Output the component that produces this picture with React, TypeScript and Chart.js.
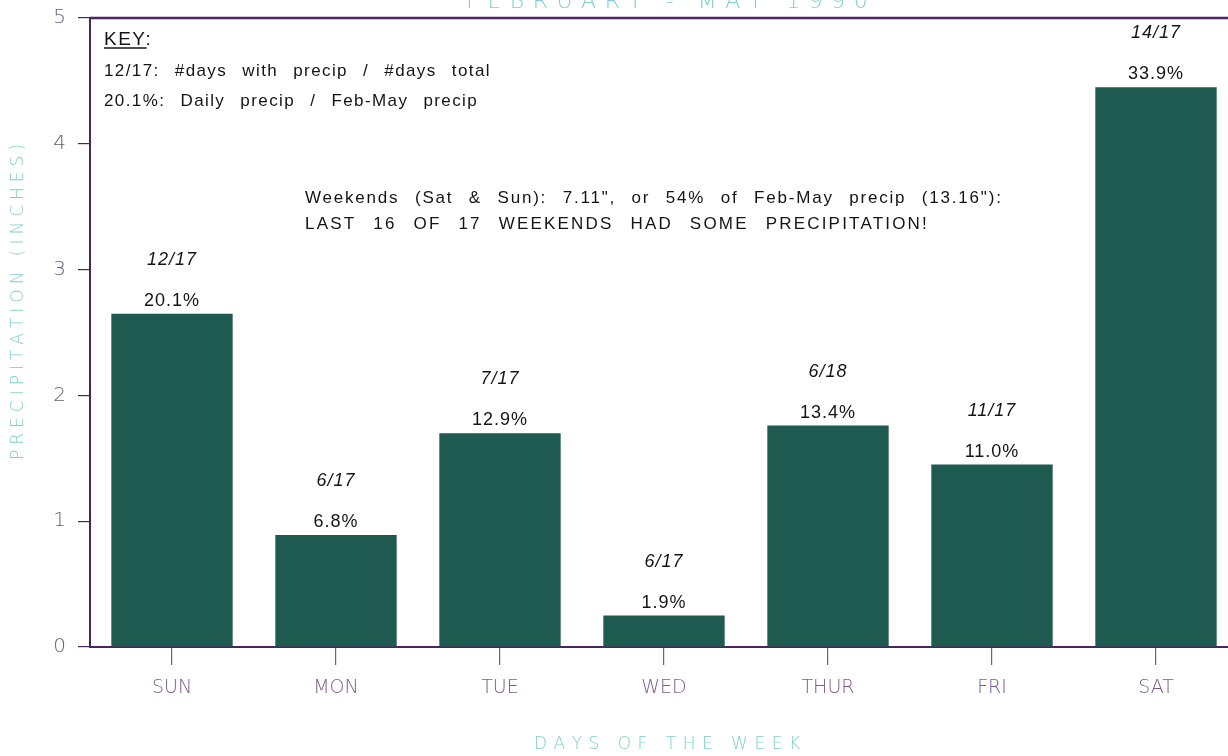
import React, { useEffect, useRef } from "react";
import { Chart, registerables } from "chart.js";

Chart.register(...registerables);

const days = ["SUN", "MON", "TUE", "WED", "THUR", "FRI", "SAT"];
const precipInches = [2.65, 0.89, 1.70, 0.25, 1.76, 1.45, 4.45];
const dayFractions = ["12/17", "6/17", "7/17", "6/17", "6/18", "11/17", "14/17"];
const dayPercents = ["20.1%", "6.8%", "12.9%", "1.9%", "13.4%", "11.0%", "33.9%"];
const yTicks = [0, 1, 2, 3, 4, 5];
const titleText = "FEBRUARY - MAY 1990";
const yTitle = "PRECIPITATION (INCHES)";
const xTitle = "DAYS OF THE WEEK";
const keyLines = ["12/17: #days with precip / #days total", "20.1%: Daily precip / Feb-May precip"];
const noteLines = [
  "Weekends (Sat & Sun): 7.11\", or 54% of Feb-May precip (13.16\"):",
  "LAST 16 OF 17 WEEKENDS HAD SOME PRECIPITATION!",
];

const AXIS = "#4a2660";
const TICK_TXT = "#7a5a8e";
const CYAN = "#7fd0cc";
const BAR = "#1f5a50";
const INK = "#141414";

function spacedText(ctx: CanvasRenderingContext2D, text: string, x: number, y: number, spacing: number, align: "center" | "left") {
  const widths = Array.from(text).map((c) => ctx.measureText(c).width);
  const total = widths.reduce((a, b) => a + b, 0) + spacing * (text.length - 1);
  let cx = align === "center" ? x - total / 2 : x;
  ctx.textAlign = "left";
  Array.from(text).forEach((c, i) => {
    ctx.fillText(c, cx, y);
    cx += widths[i] + spacing;
  });
}

const decorPlugin = {
  id: "decor",
  afterDraw(chart: any) {
    const ctx = chart.ctx as CanvasRenderingContext2D;
    const area = chart.chartArea;
    ctx.save();
    // top frame line
    ctx.strokeStyle = AXIS;
    ctx.lineWidth = 2.5;
    ctx.beginPath();
    ctx.moveTo(area.left, area.top);
    ctx.lineTo(chart.width, area.top);
    ctx.stroke();

    // title (partly cut off)
    ctx.fillStyle = CYAN;
    ctx.font = "200 22px 'DejaVu Sans'";
    ctx.textBaseline = "alphabetic";
    spacedText(ctx, titleText, 667, 8, 8.5, "center");

    // y title
    ctx.save();
    ctx.translate(19, 302);
    ctx.rotate(-Math.PI / 2);
    ctx.font = "200 17px 'DejaVu Sans'";
    ctx.textBaseline = "middle";
    spacedText(ctx, yTitle, 0, 0, 5, "center");
    ctx.restore();

    // x title
    ctx.font = "200 17px 'DejaVu Sans'";
    ctx.textBaseline = "middle";
    spacedText(ctx, xTitle, (area.left + area.right) / 2 + 3, 745, 6.5, "center");

    // key
    ctx.fillStyle = INK;
    ctx.font = "19px 'Liberation Sans'";
    ctx.textBaseline = "alphabetic";
    (ctx as any).letterSpacing = "1.5px";
    (ctx as any).wordSpacing = "0px";
    ctx.textAlign = "left";
    ctx.fillText("KEY:", 104, 45);
    const kw = ctx.measureText("KEY").width;
    ctx.strokeStyle = INK;
    ctx.lineWidth = 1.5;
    ctx.beginPath();
    ctx.moveTo(104, 48);
    ctx.lineTo(104 + kw, 48);
    ctx.stroke();
    ctx.font = "17px 'Liberation Sans'";
    (ctx as any).letterSpacing = "1.4px";
    (ctx as any).wordSpacing = "9px";
    ctx.fillText(keyLines[0], 104, 76);
    ctx.fillText(keyLines[1], 104, 106);
    (ctx as any).letterSpacing = "1.8px";
    (ctx as any).wordSpacing = "9px";
    ctx.fillText(noteLines[0], 305, 203);
    (ctx as any).letterSpacing = "2.2px";
    (ctx as any).wordSpacing = "10px";
    ctx.fillText(noteLines[1], 305, 229);
    ctx.restore();
  },
  afterDatasetsDraw(chart: any) {
    const ctx = chart.ctx as CanvasRenderingContext2D;
    const meta = chart.getDatasetMeta(0);
    ctx.save();
    ctx.fillStyle = INK;
    ctx.textAlign = "center";
    ctx.textBaseline = "alphabetic";
    (ctx as any).letterSpacing = "1px";
    meta.data.forEach((bar: any, i: number) => {
      ctx.font = "italic 18px 'Liberation Sans'";
      ctx.fillText(dayFractions[i], bar.x, bar.y - 49);
      ctx.font = "18px 'Liberation Sans'";
      ctx.fillText(dayPercents[i], bar.x, bar.y - 8);
    });
    ctx.restore();
  },
};

export default function App() {
  const ref = useRef<HTMLCanvasElement | null>(null);
  useEffect(() => {
    if (!ref.current) return;
    const chart = new Chart(ref.current, {
      type: "bar",
      data: {
        labels: days,
        datasets: [
          {
            data: precipInches,
            backgroundColor: BAR,
            borderWidth: 0,
            barPercentage: 0.74,
            categoryPercentage: 1,
          },
        ],
      },
      options: {
        responsive: false,
        animation: false,
        devicePixelRatio: 1,
        layout: { padding: { top: 18, right: 2, left: 0, bottom: 0 } },
        plugins: { legend: { display: false }, tooltip: { enabled: false }, title: { display: false } },
        scales: {
          x: {
            grid: { display: true, drawOnChartArea: false, offset: false, tickLength: 18, color: TICK_TXT, lineWidth: 1.2 },
            border: { display: true, color: AXIS, width: 2 },
            ticks: { color: TICK_TXT, padding: 12, font: { family: "'DejaVu Sans'", size: 19, weight: "200" } },
            afterFit: (s: any) => { s.height = 109; s.paddingLeft = 0; s.paddingRight = 0; },
          },
          y: {
            min: 0,
            max: 5,
            afterBuildTicks: (s: any) => { s.ticks = yTicks.map((v) => ({ value: v })); },
            grid: { display: true, drawOnChartArea: false, tickLength: 12, color: AXIS, lineWidth: 1.2 },
            border: { display: true, color: AXIS, width: 2 },
            ticks: { color: "#6a5a7a", padding: 12, font: { family: "'DejaVu Sans'", size: 20, weight: "200" } },
            afterFit: (s: any) => { s.width = 90; s.paddingTop = 0; s.paddingBottom = 0; },
          },
        },
      },
      plugins: [decorPlugin],
    } as any);
    return () => chart.destroy();
  }, []);
  return (
    <div style={{ position: "fixed", left: 0, top: 0, width: 1228, height: 756, overflow: "hidden", background: "#fff" }}>
      <canvas ref={ref} width={1240} height={756} style={{ display: "block" }} />
    </div>
  );
}
